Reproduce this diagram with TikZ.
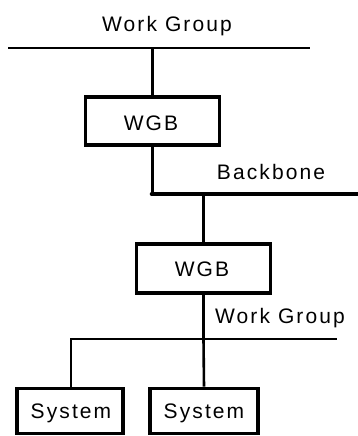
\documentclass[tikz,border=0pt]{standalone}
\usepackage{fontspec}
\setmainfont{Liberation Sans}[LetterSpace=10]
\begin{document}
\begin{tikzpicture}[x=1pt,y=-1pt,
  box/.style={draw,line width=3.6pt,minimum width=#1,inner sep=0pt,fill=white},
  lbl/.style={anchor=base,inner sep=0pt,font=\fontsize{21}{25}\selectfont},
  net/.style={line width=2.6pt},
  bb/.style={line width=4.6pt}]
\useasboundingbox (0,0) rectangle (357,436);
% top work group
\node[lbl] (wgt) at (167,31.5) {Work Group};
\coordinate (t1) at (8,48);
\coordinate (t2) at (310,48);
\draw[net] (t1) -- (t2);
\node[box=134pt,minimum height=48pt] (wgb1) at (152.5,121) {};
\node[lbl] (wgb1t) at (151,130) {WGB};
\coordinate (tm) at (wgb1.north |- t1);
\draw[net] (tm) -- (wgb1.north);
% backbone
\coordinate (b1) at (152,194);
\coordinate (b2) at (357,194);
\draw[net] (wgb1.south) -- (wgb1.south |- b1);
\draw[bb,line cap=round] (b1) -- (b2);
\node[lbl] (bbt) at (271,179.3) {Backbone};
\node[box=134pt,minimum height=49pt] (wgb2) at (203.5,268.5) {};
\node[lbl] (wgb2t) at (202,276) {WGB};
\coordinate (bm) at (wgb2.north |- b1);
\draw[net] (bm) -- (wgb2.north);
% bottom work group
\coordinate (w1) at (71,339);
\coordinate (w2) at (337,339);
\draw[net] (w1) -- (w2);
\draw[net] (wgb2.south) -- (wgb2.south |- w1);
\node[lbl] (wgb) at (280,323.3) {Work Group};
\node[box=106pt,minimum height=45pt] (s1) at (70,411) {};
\node[lbl] (s1t) at (71,418.3) {System};
\node[box=108pt,minimum height=45pt] (s2) at (204,411) {};
\node[lbl] (s2t) at (204,418.3) {System};
\draw[net,line cap=rect] (w1) -- (w1 |- s1.north);
\draw[net] (wgb2.south |- w1) -- (s2.north);
\end{tikzpicture}
\end{document}
